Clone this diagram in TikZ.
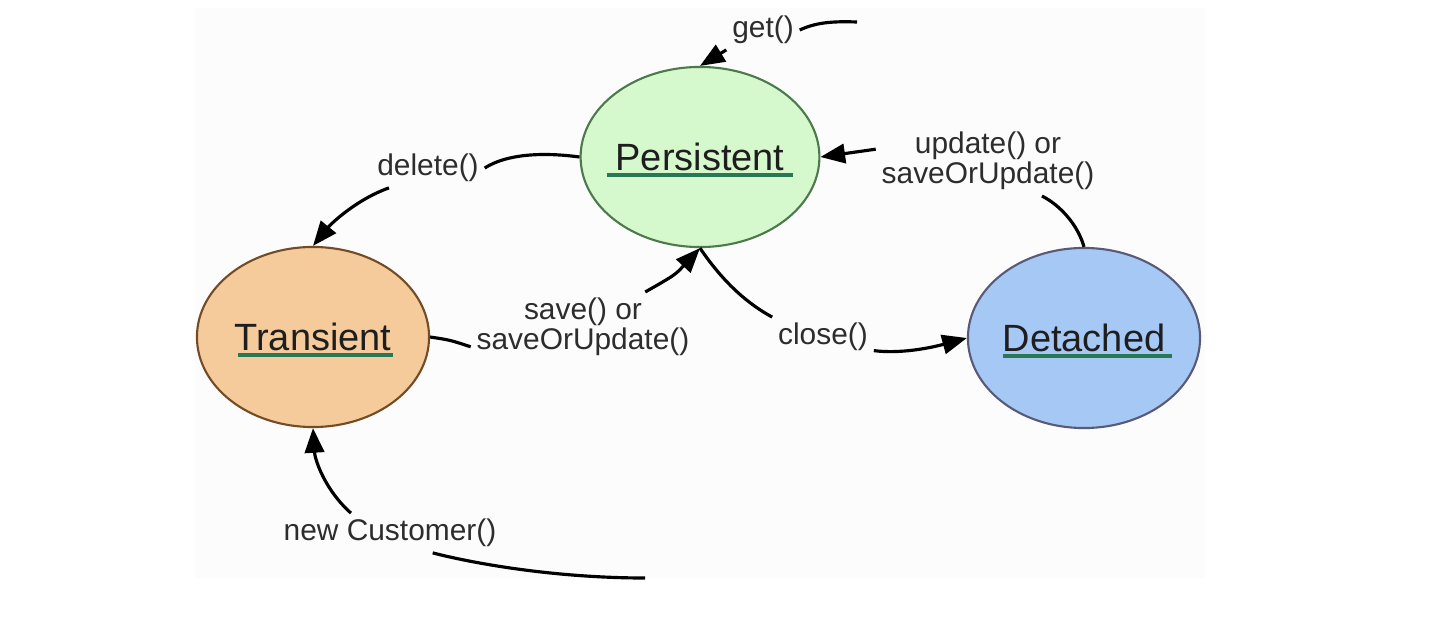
\documentclass[tikz,border=0pt]{standalone}
\usepackage{fontspec}
\setmainfont{Liberation Sans}
\usetikzlibrary{shapes.geometric,arrows.meta}

\begin{document}
\begin{tikzpicture}[x=0.01cm,y=-0.01cm,
  state/.style={ellipse,draw,line width=0.6pt,minimum width=2.32cm,minimum height=1.8cm,inner sep=0pt,font=\fontsize{10.8}{13}\selectfont,text=textColor},
  lbl/.style={inner sep=1.5pt,align=center,font=\fontsize{8.5}{8.6}\selectfont,text=lblColor},
  conn/.style={line width=0.9pt},
  arr/.style={conn,->},
  uline/.style={line width=1pt,color=ulColor},
  >={Triangle[length=7pt,width=5.5pt]}]
\definecolor{bgColor}{RGB}{252,252,252}
\definecolor{textColor}{RGB}{30,30,30}
\definecolor{lblColor}{RGB}{45,45,45}
\definecolor{ulColor}{RGB}{40,120,85}
\definecolor{persColor}{RGB}{213,248,205}
\definecolor{tranColor}{RGB}{245,203,155}
\definecolor{detColor}{RGB}{165,200,245}
\useasboundingbox (0,0) rectangle (1454,618);
\fill[bgColor] (195,8) rectangle (1205,578);
% states
\node[state,fill=persColor,draw=black!55!green!40!gray] (pers) at (700,157) {Persistent};
\node[state,fill=tranColor,draw=brown!60!black] (tran) at (313,337) {Transient};
\node[state,fill=detColor,draw=black!60!blue!30!gray] (det) at (1084,338) {Detached};
\draw[uline] (607,175) -- (793,175);
\draw[uline] (238,355) -- (393,355);
\draw[uline] (1003,356) -- (1172,356);
% transition labels
\node[lbl] (get) at (763,30) {get()};
\node[lbl] (del) at (428,168) {delete()};
\node[lbl] (sav) at (583,327) {save() or\\saveOrUpdate()};
\node[lbl] (clo) at (823,337) {close()};
\node[lbl] (upd) at (988,161) {update() or\\saveOrUpdate()};
\node[lbl] (new) at (390,533) {new Customer()};
\coordinate (getin) at (857,22);
\coordinate (newin) at (645,578);
% transitions
\draw[conn] (getin) .. controls (830,21) and (815,23) .. (get.east);
\draw[arr] (get.south west) -- (pers.north);
\draw[conn] (pers.west) .. controls (550,153) and (510,152) .. (del.east);
\draw[arr] (del.207) .. controls (355,200) and (330,225) .. (tran.north);
\draw[conn] (tran.east) .. controls (450,340) .. (sav.190);
\draw[arr] ([xshift=-5mm]sav.north east) .. controls (675,275) .. (pers.south);
\draw[conn] (pers.south) .. controls (725,285) and (750,305) .. (clo.north west);
\draw[arr] (clo.-15) .. controls (900,354) and (930,348) .. (det.west);
\draw[conn] (det.north) .. controls (1078,225) and (1060,205) .. (upd.-33);
\draw[arr] (upd.174) -- (pers.east);
\draw[conn] (newin) .. controls (560,578) and (480,565) .. (new.-25);
\draw[arr] (new.153) .. controls (325,490) and (315,460) .. (tran.south);
\end{tikzpicture}
\end{document}
